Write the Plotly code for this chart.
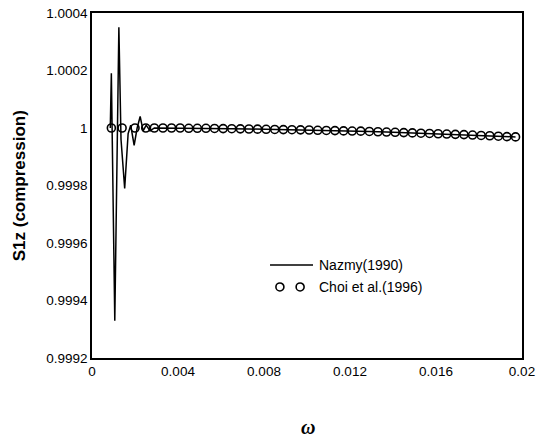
import plotly.graph_objects as go

# Nazmy (1990) line
nazmy_x = [0.00085, 0.00090, 0.00106, 0.00125, 0.00135, 0.00152, 0.00168, 0.00180,
           0.00196, 0.00210, 0.00224, 0.00238, 0.00252, 0.00270, 0.00290, 0.0033,
           0.0041, 0.0049, 0.0057, 0.0065, 0.0073, 0.0081, 0.0089, 0.0097, 0.0105,
           0.0113, 0.0121, 0.0129, 0.0137, 0.0145, 0.0153, 0.0161, 0.0169, 0.0177,
           0.0185, 0.0193, 0.0197]
nazmy_y = [1.00000, 1.00019, 0.99933, 1.00035, 0.99996, 0.99979, 0.99998, 1.00001,
           0.99994, 1.00000, 1.00004, 0.99999, 1.00001, 0.99999, 1.00000, 1.00000,
           1.000000, 0.999999, 0.9999985, 0.9999975, 0.9999965, 0.9999955, 0.9999945,
           0.9999935, 0.999992, 0.999991, 0.9999895, 0.999988, 0.999986, 0.999984,
           0.999982, 0.99998, 0.999978, 0.9999755, 0.999973, 0.99997, 0.999969]

# Choi et al. (1996) circles
choi_x = [0.0009, 0.0014, 0.0020, 0.0025, 0.0029, 0.0033, 0.0037, 0.0041, 0.0045,
          0.0049, 0.0053, 0.0057, 0.0061, 0.0065, 0.0069, 0.0073, 0.0077, 0.0081,
          0.0085, 0.0089, 0.0093, 0.0097, 0.0101, 0.0105, 0.0109, 0.0113, 0.0117,
          0.0121, 0.0125, 0.0129, 0.0133, 0.0137, 0.0141, 0.0145, 0.0149, 0.0153,
          0.0157, 0.0161, 0.0165, 0.0169, 0.0173, 0.0177, 0.0181, 0.0185, 0.0189,
          0.0193, 0.0197]
choi_y = [1.0, 1.0, 1.0, 1.0, 1.0, 1.0, 1.0, 1.0, 0.999999,
          0.999999, 0.999999, 0.9999985, 0.999998, 0.9999975, 0.999997, 0.9999965,
          0.999996, 0.9999955, 0.999995, 0.9999945, 0.999994, 0.9999935, 0.999993,
          0.999992, 0.9999915, 0.999991, 0.99999, 0.9999895, 0.999989, 0.999988,
          0.999987, 0.999986, 0.999985, 0.999984, 0.999983, 0.999982, 0.999981,
          0.99998, 0.999979, 0.999978, 0.999977, 0.9999755, 0.999974, 0.999973,
          0.9999715, 0.99997, 0.999969]

x_ticks = [0, 0.004, 0.008, 0.012, 0.016, 0.02]
x_tick_labels = ["0", "0.004", "0.008", "0.012", "0.016", "0.02"]
y_ticks = [0.9992, 0.9994, 0.9996, 0.9998, 1.0, 1.0002, 1.0004]
y_tick_labels = ["0.9992", "0.9994", "0.9996", "0.9998", "1", "1.0002", "1.0004"]

fig = go.Figure()
fig.add_trace(go.Scatter(x=nazmy_x, y=nazmy_y, mode="lines",
                         line=dict(color="black", width=1.5), name="Nazmy(1990)",
                         showlegend=False))
fig.add_trace(go.Scatter(x=choi_x, y=choi_y, mode="markers",
                         marker=dict(symbol="circle-open", size=8, color="black",
                                     line=dict(width=1.6, color="black")),
                         name="Choi et al.(1996)", showlegend=False))

font = "Liberation Sans, Arial, sans-serif"
fig.update_layout(
    width=539, height=441,
    margin=dict(l=92, r=17, t=13, b=83),
    paper_bgcolor="white", plot_bgcolor="white",
    font=dict(family=font, size=13, color="black"),
    xaxis=dict(range=[0, 0.0200001], tickvals=x_ticks, ticktext=x_tick_labels,
               showgrid=False, zeroline=False, showline=True, linecolor="black",
               linewidth=1.5, mirror=True, ticks="", automargin=False,
               tickfont=dict(size=13.5)),
    yaxis=dict(range=[0.99919999, 1.00040001], tickvals=y_ticks, ticktext=y_tick_labels,
               showgrid=False, zeroline=False, showline=True, linecolor="black",
               linewidth=1.5, mirror=True, ticks="", automargin=False,
               tickfont=dict(size=13.5)),
)

# y-axis title
fig.add_annotation(xref="paper", yref="paper", x=-0.168, y=0.5, xanchor="center",
                   yanchor="middle", textangle=-90,
                   text="<b>S1z (compression)</b>", showarrow=False,
                   font=dict(size=17))
# x-axis title
fig.add_annotation(xref="paper", yref="paper", x=0.502, y=-0.2, yanchor="middle",
                   text="<b><i>ω</i></b>", showarrow=False,
                   font=dict(family="Liberation Serif, Times New Roman, serif", size=20))

# custom legend
fig.add_shape(type="line", xref="paper", yref="paper", x0=0.414, x1=0.514,
              y0=0.2696, y1=0.2696, line=dict(color="black", width=1.5))
for cx in [0.437, 0.484]:
    fig.add_shape(type="circle", xref="paper", yref="paper",
                  x0=cx - 0.0093, x1=cx + 0.0093, y0=0.206 - 0.0116, y1=0.206 + 0.0116,
                  line=dict(color="black", width=1.6))
fig.add_annotation(xref="paper", yref="paper", x=0.523, y=0.2696, xanchor="left",
                   yanchor="middle", text="Nazmy(1990)", showarrow=False,
                   font=dict(size=14))
fig.add_annotation(xref="paper", yref="paper", x=0.523, y=0.206, xanchor="left",
                   yanchor="middle", text="Choi et al.(1996)", showarrow=False,
                   font=dict(size=14))

fig.write_html("out.html",
               config={"displayModeBar": False},
               post_script="document.body.style.margin='0';"
                           "document.body.style.overflow='hidden';")
